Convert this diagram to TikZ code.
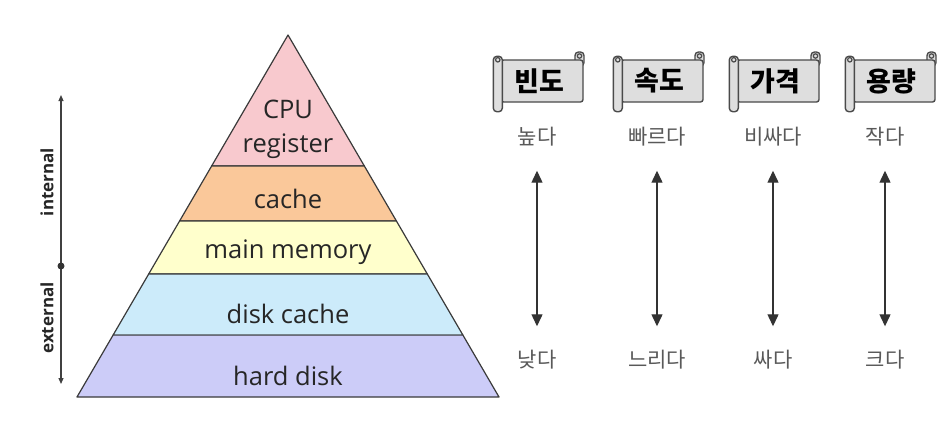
\documentclass[tikz,border=0pt]{standalone}
\usepackage{fontspec}
\setmainfont{Open Sans}
\newfontfamily\krfont{Noto Sans CJK KR}
\usetikzlibrary{arrows.meta,positioning,calc}
\definecolor{layerPink}{HTML}{F8C9CE}
\definecolor{layerOrange}{HTML}{FAC89A}
\definecolor{layerYellow}{HTML}{FFFFCC}
\definecolor{layerBlue}{HTML}{CCEBFA}
\definecolor{layerLavender}{HTML}{CCCCF8}
\definecolor{layerLine}{HTML}{3A3A3A}
\definecolor{scrollFill}{HTML}{DEDEDE}
\definecolor{scrollLine}{HTML}{4A4A4A}
\tikzset{
  layer/.style={draw=layerLine, line width=1.2pt, line join=round},
  layertext/.style={font=\fontsize{25.5}{34}\selectfont, text=black!85, align=center, inner sep=0pt},
  scrollbox/.style={draw=scrollLine, fill=scrollFill, line width=1.4pt, rounded corners=2.5pt,
    minimum width=82pt, minimum height=42pt, inner sep=0pt},
  scrolltext/.style={font=\krfont\bfseries\fontsize{27}{28}\selectfont},
  scrollroll/.style={draw=scrollLine, fill=scrollFill, line width=1.4pt, rounded corners=3.5pt},
  levellabel/.style={font=\krfont\fontsize{21}{24}\selectfont, text=black!65, inner sep=0pt},
  rangearrow/.style={{Triangle[length=12pt,width=11pt]}-{Triangle[length=12pt,width=11pt]},
    line width=1.3pt, draw=black!80, shorten >=24pt, shorten <=24pt},
  sidearrow/.style={-{Triangle[length=6pt,width=5pt]}, line width=1.2pt, draw=black!75},
  sidelabel/.style={font=\bfseries\fontsize{17}{20}\selectfont, rotate=90, text=black!85}
}
\begin{document}
\begin{tikzpicture}[x=1pt, y=-1pt]
    \useasboundingbox[fill=white] (0,0) rectangle (947,424);

    % pyramid
    \coordinate (apex) at (288,35);
    \coordinate (bl) at (77,397);
    \coordinate (br) at (499,397);
    \coordinate (l1) at ($(apex)!0.362!(bl)$);
    \coordinate (r1) at ($(apex)!0.362!(br)$);
    \coordinate (l2) at ($(apex)!0.514!(bl)$);
    \coordinate (r2) at ($(apex)!0.514!(br)$);
    \coordinate (l3) at ($(apex)!0.660!(bl)$);
    \coordinate (r3) at ($(apex)!0.660!(br)$);
    \coordinate (l4) at ($(apex)!0.829!(bl)$);
    \coordinate (r4) at ($(apex)!0.829!(br)$);
    \filldraw[layer, fill=layerPink] (apex) -- (r1) -- (l1) -- cycle;
    \filldraw[layer, fill=layerOrange] (l1) -- (r1) -- (r2) -- (l2) -- cycle;
    \filldraw[layer, fill=layerYellow] (l2) -- (r2) -- (r3) -- (l3) -- cycle;
    \filldraw[layer, fill=layerBlue] (l3) -- (r3) -- (r4) -- (l4) -- cycle;
    \filldraw[layer, fill=layerLavender] (l4) -- (r4) -- (br) -- (bl) -- cycle;

    \node[layertext] (cpu) at (288,129) {CPU\\register};
    \node[layertext] (cache) at (288,199) {cache};
    \node[layertext] (mainmem) at (288,252) {main memory};
    \node[layertext] (diskcache) at (288,314) {disk cache};
    \node[layertext] (harddisk) at (288,376) {hard disk};

    % internal / external
    \coordinate (inTop) at (61,95);
    \coordinate (split) at (61,266);
    \coordinate (exBot) at (61,384);
    \draw[sidearrow] (split) -- (inTop);
    \draw[sidearrow] (split) -- (exBot);
    \fill[black!80] (split) circle (3.5pt);
    \node[sidelabel] (intlabel) at (47,182) {internal};
    \node[sidelabel] (extlabel) at (47,318) {external};

    % scroll headers
    \foreach \px in {542, 662, 778, 894} {
      \draw[scrollroll] (\px+33,52) rectangle (\px+42,66);
      \draw[scrollLine, line width=1.2pt] (\px+37.5,56) circle (2.2pt);
    }
    \node[scrollbox] (freq) at (542,81) {};
    \node[scrollbox] (speed) at (662,81) {};
    \node[scrollbox] (price) at (778,81) {};
    \node[scrollbox] (size) at (894,81) {};
    \foreach \name in {freq, speed, price, size} {
      \draw[scrollroll] ($(\name.north west)+(-7,-3)$) rectangle ($(\name.south west)+(2,9)$);
      \draw[scrollLine, line width=1.2pt] ($(\name.north west)+(-2.5,0.5)$) circle (2.2pt);
    }
    \node[scrolltext] (freqtext) at (539,81) {빈도};
    \node[scrolltext] (speedtext) at (659,81) {속도};
    \node[scrolltext] (pricetext) at (775,81) {가격};
    \node[scrolltext] (sizetext) at (891,81) {용량};

    % value ranges
    \node[levellabel] (freqhi) at (537,137) {높다};
    \node[levellabel] (speedhi) at (657,137) {빠르다};
    \node[levellabel] (pricehi) at (773,137) {비싸다};
    \node[levellabel] (sizehi) at (885,137) {작다};
    \node[levellabel] (freqlo) at (537,360) {낮다};
    \node[levellabel] (speedlo) at (657,360) {느리다};
    \node[levellabel] (pricelo) at (773,360) {싸다};
    \node[levellabel] (sizelo) at (885,360) {크다};
    \draw[rangearrow] (freqhi) -- (freqlo);
    \draw[rangearrow] (speedhi) -- (speedlo);
    \draw[rangearrow] (pricehi) -- (pricelo);
    \draw[rangearrow] (sizehi) -- (sizelo);
  \end{tikzpicture}
\end{document}
